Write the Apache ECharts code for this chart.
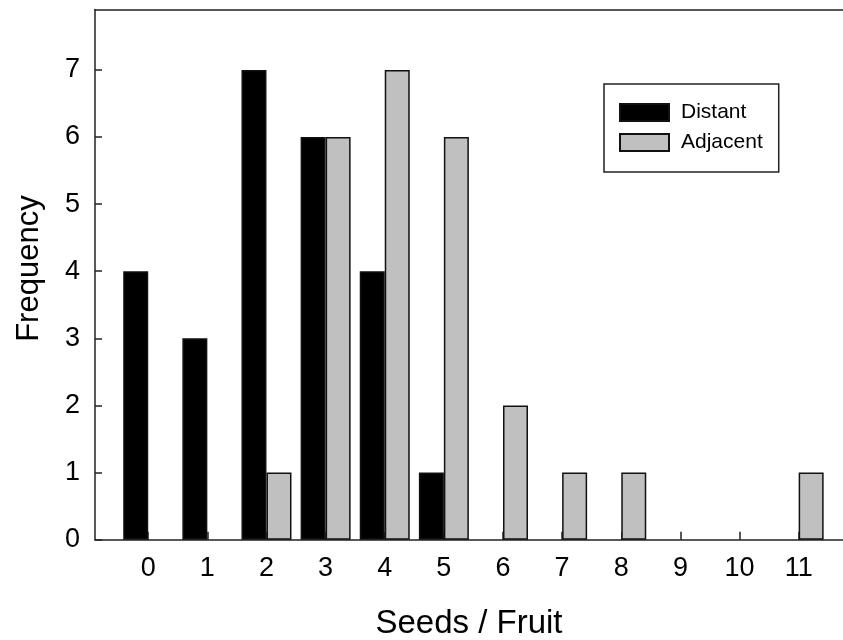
<!DOCTYPE html>
<html>
<head>
<meta charset="utf-8">
<script src="https://cdn.jsdelivr.net/npm/echarts@6/dist/echarts.min.js"></script>
<style>html,body{margin:0;padding:0;background:#fff}#c{width:843px;height:640px}</style>
</head>
<body>
<div id="c"></div>
<script>
var categories = [0, 1, 2, 3, 4, 5, 6, 7, 8, 9, 10, 11];
var distant = [4, 3, 7, 6, 4, 1, 0, 0, 0, 0, 0, 0];
var adjacent = [0, 0, 1, 6, 7, 6, 2, 1, 1, 0, 0, 1];
var yTicks = [0, 1, 2, 3, 4, 5, 6, 7];

function pairs(vals) {
  return categories.map(function (c, i) { return vals[i] ? [c, vals[i]] : [c, '-']; });
}

var FONT = '"Liberation Sans", Arial, sans-serif';
var LINE = { color: '#222', width: 1.5 };
var chart = echarts.init(document.getElementById('c'), null, { renderer: 'canvas' });
chart.setOption({
  animation: false,
  backgroundColor: '#fff',
  grid: { left: 95, right: 0, top: 9.5, bottom: 100.3, outerBoundsMode: 'none', containLabel: false },
  legend: {
    orient: 'vertical', left: 604, top: 84,
    padding: [18, 16, 19, 15],
    borderColor: '#222', borderWidth: 1.5,
    itemWidth: 49, itemHeight: 17, itemGap: 9,
    icon: 'rect',
    textStyle: { fontFamily: FONT, fontSize: 21, color: '#000', padding: [0, 0, 0, 7] },
    data: ['Distant', 'Adjacent']
  },
  xAxis: [{
    type: 'value', min: -0.9, max: 11.75,
    name: 'Seeds / Fruit', nameLocation: 'middle', nameGap: 68,
    nameTextStyle: { fontFamily: FONT, fontSize: 33, color: '#000' },
    axisLine: { show: true, onZero: false, lineStyle: LINE },
    axisTick: { show: true, inside: true, length: 8, customValues: categories, lineStyle: LINE },
    axisLabel: { customValues: categories, fontFamily: FONT, fontSize: 27, color: '#000', margin: 15 },
    splitLine: { show: false }
  }, {
    type: 'value', position: 'top', min: -0.9, max: 11.75,
    axisLine: { show: true, onZero: false, lineStyle: LINE },
    axisTick: { show: false }, axisLabel: { show: false }, splitLine: { show: false }
  }],
  yAxis: {
    type: 'value', min: 0, max: 7.9,
    name: 'Frequency', nameLocation: 'middle', nameGap: 50,
    nameTextStyle: { fontFamily: FONT, fontSize: 31, color: '#000', padding: [0, 0, 0, 12] },
    axisLine: { show: true, onZero: false, lineStyle: LINE },
    axisTick: { show: true, inside: true, length: 7, customValues: yTicks, lineStyle: LINE },
    axisLabel: { customValues: yTicks, fontFamily: FONT, fontSize: 27, color: '#000', margin: 15 },
    splitLine: { show: false }
  },
  series: [
    { name: 'Distant', type: 'bar', barWidth: 25, barGap: '0%', data: pairs(distant),
      itemStyle: { color: '#000', borderColor: '#111', borderWidth: 1.5 } },
    { name: 'Adjacent', type: 'bar', barWidth: 25, barGap: '0%', data: pairs(adjacent),
      itemStyle: { color: '#c0c0c0', borderColor: '#111', borderWidth: 1.5 } }
  ]
});
</script>
</body>
</html>
